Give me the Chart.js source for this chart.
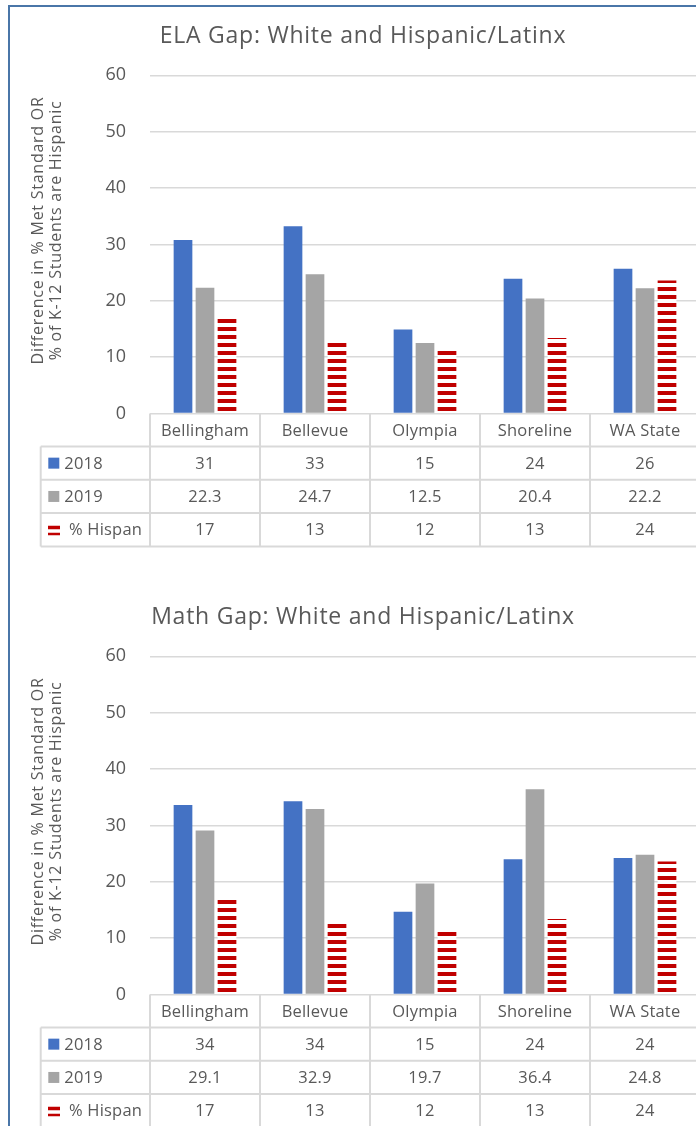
<!DOCTYPE html>
<html>
<head>
<meta charset="utf-8">
<script src="https://cdn.jsdelivr.net/npm/chart.js@4.4.1/dist/chart.umd.min.js"></script>
<style>
  html, body { margin: 0; padding: 0; background: #fff; overflow: hidden; width: 696px; height: 1126px; }
  #marco { position: absolute; left: 8px; top: 5px; width: 800px; height: 1200px;
           border-left: 2px solid #4a76a8; border-top: 2px solid #4a76a8; }
  .caja { position: absolute; left: 10px; width: 720px; height: 575px; }
  #cajaEla { top: 7px; }
  #cajaMath { top: 588px; }
</style>
</head>
<body>
<div id="marco"></div>
<div class="caja" id="cajaEla"><canvas id="elaChart" width="720" height="575"></canvas></div>
<div class="caja" id="cajaMath"><canvas id="mathChart" width="720" height="575"></canvas></div>
<script>
// datos
const escuelas = ["Bellingham", "Bellevue", "Olympia", "Shoreline", "WA State"];
const yTicks = [0, 10, 20, 30, 40, 50, 60];

const ela2018 = [30.8, 33.2, 14.9, 23.9, 25.7];
const ela2019 = [22.3, 24.7, 12.5, 20.4, 22.2];
const math2018 = [33.6, 34.3, 14.7, 24.0, 24.2];
const math2019 = [29.1, 32.9, 19.7, 36.4, 24.8];
const hispan = [17.0, 12.8, 11.7, 13.4, 23.6];

const AZUL = "#4472c4";
const GRIS = "#a5a5a5";
const ROJO = "#c00000";
const TEXTO = "#595959";
const LINEA = "#d9d9d9";
const FUENTE = "'Open Sans', Lato, sans-serif";

const tituloEje = ["Difference in % Met Standard OR", "% of K-12 Students are Hispanic"];

function rayas(ctx) {
  const c = document.createElement("canvas");
  c.width = 8; c.height = 8;
  const g = c.getContext("2d");
  g.fillStyle = "#fff";
  g.fillRect(0, 0, 8, 8);
  g.fillStyle = ROJO;
  g.fillRect(0, 0, 8, 4);
  return ctx.createPattern(c, "repeat");
}

// titulo, tabla de datos debajo del grafico y titulo del eje
const tablaPlugin = {
  id: "tablaDatos",
  afterDraw(chart) {
    const ctx = chart.ctx;
    const area = chart.chartArea;
    const sx = chart.scales.x;
    const top = area.bottom;
    const headH = 33, rowH = 33.3;
    const legL = 30.7;
    const colW = (area.right - area.left) / escuelas.length;
    const filas = chart.data.datasets;
    const bottom = top + headH + filas.length * rowH;

    ctx.save();
    // titulo del grafico
    ctx.fillStyle = TEXTO;
    ctx.font = "23px " + FUENTE;
    ctx.letterSpacing = "0.75px";
    ctx.textAlign = "center";
    ctx.textBaseline = "middle";
    ctx.fillText(chart.options.tituloGrafico, 353, 29);

    ctx.strokeStyle = LINEA;
    ctx.lineWidth = 2;
    ctx.beginPath();
    for (let i = 0; i <= escuelas.length; i++) {
      const x = area.left + i * colW;
      ctx.moveTo(x, top); ctx.lineTo(x, bottom);
    }
    ctx.moveTo(legL, top + headH); ctx.lineTo(legL, bottom);
    for (let k = 0; k <= filas.length; k++) {
      const y = top + headH + k * rowH;
      ctx.moveTo(legL, y); ctx.lineTo(area.right, y);
    }
    ctx.stroke();

    ctx.font = "16.5px " + FUENTE;
    ctx.letterSpacing = "0.2px";
    escuelas.forEach((e, i) => {
      ctx.fillText(e, sx.getPixelForValue(i), top + headH / 2 + 1);
    });

    filas.forEach((ds, k) => {
      const cy = top + headH + k * rowH + rowH / 2;
      ds.data.forEach((v, i) => {
        ctx.fillStyle = TEXTO;
        ctx.textAlign = "center";
        ctx.fillText(v.toFixed(ds.decimales), sx.getPixelForValue(i), cy + 1);
      });
      // clave de leyenda
      if (ds.rayado) {
        ctx.fillStyle = ROJO;
        ctx.fillRect(38, cy - 4, 12, 3.5);
        ctx.fillRect(38, cy + 3, 12, 2.5);
        ctx.fillStyle = TEXTO;
        ctx.textAlign = "left";
        ctx.fillText(ds.label, 59, cy + 1);
      } else {
        ctx.fillStyle = ds.backgroundColor;
        ctx.fillRect(38.3, cy - 5.5, 11, 11);
        ctx.fillStyle = TEXTO;
        ctx.textAlign = "left";
        ctx.fillText(ds.label, 54.3, cy + 1);
      }
    });

    // titulo del eje y, dos lineas
    const cyEje = (area.top + area.bottom) / 2 - 14;
    ctx.font = "16px " + FUENTE;
    ctx.letterSpacing = "0.75px";
    ctx.fillStyle = TEXTO;
    ctx.textAlign = "center";
    [28, 46.7].forEach((x, j) => {
      ctx.save();
      ctx.translate(x, cyEje);
      ctx.rotate(-Math.PI / 2);
      ctx.fillText(tituloEje[j], 0, 0);
      ctx.restore();
    });
    ctx.restore();
  }
};

function crearGrafico(id, titulo, serie2018, serie2019) {
  const ctx = document.getElementById(id).getContext("2d");
  return new Chart(ctx, {
    type: "bar",
    data: {
      labels: escuelas,
      datasets: [
        { label: "2018", data: serie2018, backgroundColor: AZUL, decimales: 0 },
        { label: "2019", data: serie2019, backgroundColor: GRIS, decimales: 1 },
        { label: "% Hispan", data: hispan, backgroundColor: rayas(ctx), decimales: 0, rayado: true },
      ],
    },
    options: {
      tituloGrafico: titulo,
      responsive: false,
      animation: false,
      datasets: { bar: { categoryPercentage: 0.6, barPercentage: 0.85, borderWidth: 0 } },
      layout: { padding: { left: 16, right: 30, top: 68.3, bottom: 168.5 } },
      scales: {
        x: { display: false },
        y: {
          min: 0,
          max: 60,
          afterBuildTicks: (s) => { s.ticks = yTicks.map((v) => ({ value: v })); },
          afterFit: (s) => { s.width = 124; },
          border: { display: false },
          grid: { color: LINEA, lineWidth: 1.5, drawTicks: false },
          ticks: { color: TEXTO, padding: 24, font: { family: FUENTE, size: 18 } },
        },
      },
      plugins: {
        legend: { display: false },
        tooltip: { enabled: false },
        title: { display: false },
      },
    },
    plugins: [tablaPlugin],
  });
}

crearGrafico("elaChart", "ELA Gap: White and Hispanic/Latinx", ela2018, ela2019);
crearGrafico("mathChart", "Math Gap: White and Hispanic/Latinx", math2018, math2019);
</script>
</body>
</html>
